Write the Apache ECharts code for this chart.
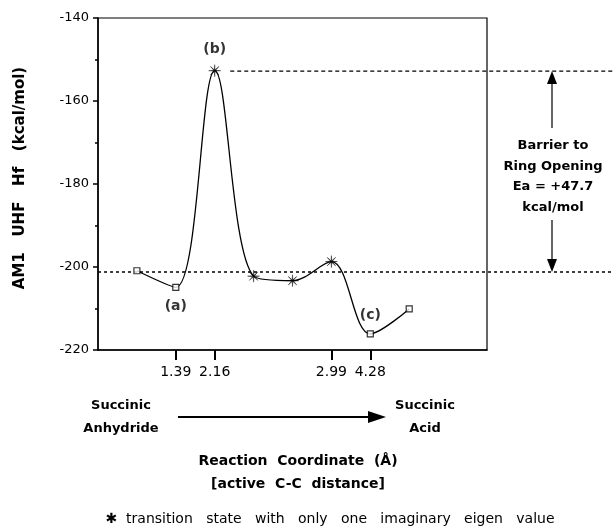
<!DOCTYPE html>
<html><head><meta charset="utf-8">
<script src="https://cdn.jsdelivr.net/npm/echarts@6/dist/echarts.min.js"></script>
<style>html,body{margin:0;padding:0;background:#fff}#c{width:614px;height:529px}</style>
</head><body><div id="c"></div>
<script>
// ---- data ----
const coordIndex = [1, 2, 3, 4, 5, 6, 7, 8];
const energy = [-200.9, -204.9, -152.7, -202.2, -203.3, -198.7, -216.1, -210.1];
const pointKind = ['min', 'min', 'ts', 'ts', 'ts', 'ts', 'min', 'min'];
const pointTag = ['', '(a)', '(b)', '', '', '', '(c)', ''];
const tagSide = ['', 'bottom', 'top', '', '', '', 'top', ''];
const xTickPos = [2, 3, 6, 7];
const xTickLabels = ['1.39', '2.16', '2.99', '4.28'];
const yMin = -220, yMax = -140, yStep = 20;
const barrierTop = -152.8;
const barrierBase = -201.2;
const barrierText = ['Barrier to', 'Ring Opening', 'Ea = +47.7', 'kcal/mol'];
const yTitle = 'AM1   UHF   Hf   (kcal/mol)';
const xTitle = ['Reaction  Coordinate  (Å)', '[active  C-C  distance]'];
const fromLabel = ['Succinic', 'Anhydride'];
const toLabel = ['Succinic', 'Acid'];
const footnote = '✱  transition   state   with   only   one   imaginary   eigen   value';

function starPath(n, rIn) {
  let d = '';
  for (let i = 0; i < 2 * n; i++) {
    const a = Math.PI * i / n - Math.PI / 2;
    const r = i % 2 ? rIn : 1;
    d += (i ? 'L' : 'M') + (Math.cos(a) * r * 10 + 10).toFixed(2) + ' ' + (Math.sin(a) * r * 10 + 10).toFixed(2) + ' ';
  }
  return 'path://' + d + 'Z';
}
const STAR = starPath(8, 0.16);
const FONT = '"DejaVu Sans", Arial, sans-serif';

function pts(kind) {
  const out = [];
  coordIndex.forEach((x, i) => {
    if (pointKind[i] !== kind) return;
    const item = { value: [x, energy[i]] };
    if (pointTag[i]) {
      item.label = { show: true, formatter: pointTag[i], position: tagSide[i], distance: 8,
        color: '#000', fontFamily: FONT, fontWeight: 'bold', fontSize: 14 };
    }
    out.push(item);
  });
  return out;
}

const chart = echarts.init(document.getElementById('c'), null, { renderer: 'canvas' });
chart.setOption({
  animation: false,
  backgroundColor: '#fff',
  grid: { left: 98, top: 18, right: 127, bottom: 179, show: true, borderColor: '#000', borderWidth: 1.2, backgroundColor: 'transparent' },
  xAxis: {
    type: 'value', min: 0, max: 10,
    axisLine: { lineStyle: { color: '#000', width: 1.5 } },
    axisTick: { show: true, customValues: xTickPos, length: 10, lineStyle: { color: '#000', width: 2 } },
    axisLabel: { customValues: xTickPos, formatter: v => xTickLabels[xTickPos.indexOf(v)] || '',
      color: '#000', fontFamily: FONT, fontSize: 14, margin: 15 },
    splitLine: { show: false }
  },
  yAxis: {
    type: 'value', min: yMin, max: yMax, interval: yStep,
    axisLine: { show: true, lineStyle: { color: '#000', width: 1.5 } },
    axisTick: { show: true, length: 5, lineStyle: { color: '#000', width: 1.5 } },
    minorTick: { show: true, splitNumber: 2, length: 3, lineStyle: { color: '#000', width: 1.5 } },
    axisLabel: { color: '#000', fontFamily: FONT, fontSize: 13, margin: 9 },
    splitLine: { show: false }
  },
  series: [
    { type: 'line', data: coordIndex.map((x, i) => [x, energy[i]]), smooth: 0.35,
      showSymbol: false, lineStyle: { color: '#000', width: 1.3 }, z: 2 },
    { type: 'scatter', data: pts('min'), symbol: 'rect', symbolSize: 6,
      itemStyle: { color: '#fff', borderColor: '#000', borderWidth: 1.2 }, z: 3 },
    { type: 'scatter', data: pts('ts'), symbol: STAR, symbolSize: 12,
      itemStyle: { color: '#000', borderColor: '#000', borderWidth: 0.5 }, z: 3 }
  ]
});

const W = 614;
const pTop = chart.convertToPixel({ gridIndex: 0 }, [3.4, barrierTop]);
const pBase = chart.convertToPixel({ gridIndex: 0 }, [0, barrierBase]);
const ax = 552;
const txt = (t, x, y, size, weight) => ({ type: 'text', x: x, y: y,
  style: { text: t, fill: '#000', font: (weight || 'bold') + ' ' + size + 'px ' + FONT, textAlign: 'center', textVerticalAlign: 'middle' } });
const g = [
  { type: 'line', shape: { x1: pTop[0], y1: pTop[1], x2: W, y2: pTop[1] }, style: { stroke: '#000', lineWidth: 1.2, lineDash: [4, 3] } },
  { type: 'line', shape: { x1: pBase[0], y1: pBase[1], x2: W, y2: pBase[1] }, style: { stroke: '#000', lineWidth: 1.6, lineDash: [3, 3] } },
  { type: 'line', shape: { x1: ax, y1: 128, x2: ax, y2: pTop[1] + 10 }, style: { stroke: '#000', lineWidth: 1.2 } },
  { type: 'polygon', shape: { points: [[ax, pTop[1]], [ax - 5, pTop[1] + 13], [ax + 5, pTop[1] + 13]] }, style: { fill: '#000' } },
  { type: 'line', shape: { x1: ax, y1: 220, x2: ax, y2: pBase[1] - 10 }, style: { stroke: '#000', lineWidth: 1.2 } },
  { type: 'polygon', shape: { points: [[ax, pBase[1]], [ax - 5, pBase[1] - 13], [ax + 5, pBase[1] - 13]] }, style: { fill: '#000' } },
  // reaction arrow
  { type: 'line', shape: { x1: 178, y1: 417, x2: 370, y2: 417 }, style: { stroke: '#000', lineWidth: 2 } },
  { type: 'polygon', shape: { points: [[386, 417], [368, 411], [368, 423]] }, style: { fill: '#000' } },
  // y title
  { type: 'text', x: 20, y: 178, rotation: Math.PI / 2,
    style: { text: yTitle, fill: '#000', font: 'bold 15px ' + FONT, textAlign: 'center', textVerticalAlign: 'middle' } }
];
const by = [146, 167, 187, 208];
barrierText.forEach((t, i) => g.push(txt(t, 553, by[i], 13)));
g.push(txt(fromLabel[0], 121, 406, 13), txt(fromLabel[1], 121, 429, 13));
g.push(txt(toLabel[0], 425, 406, 13), txt(toLabel[1], 425, 429, 13));
g.push(txt(xTitle[0], 298, 461, 14), txt(xTitle[1], 298, 484, 14));
g.push(txt(footnote, 330, 519, 14, 'normal'));
chart.setOption({ graphic: g });
</script>
</body></html>
